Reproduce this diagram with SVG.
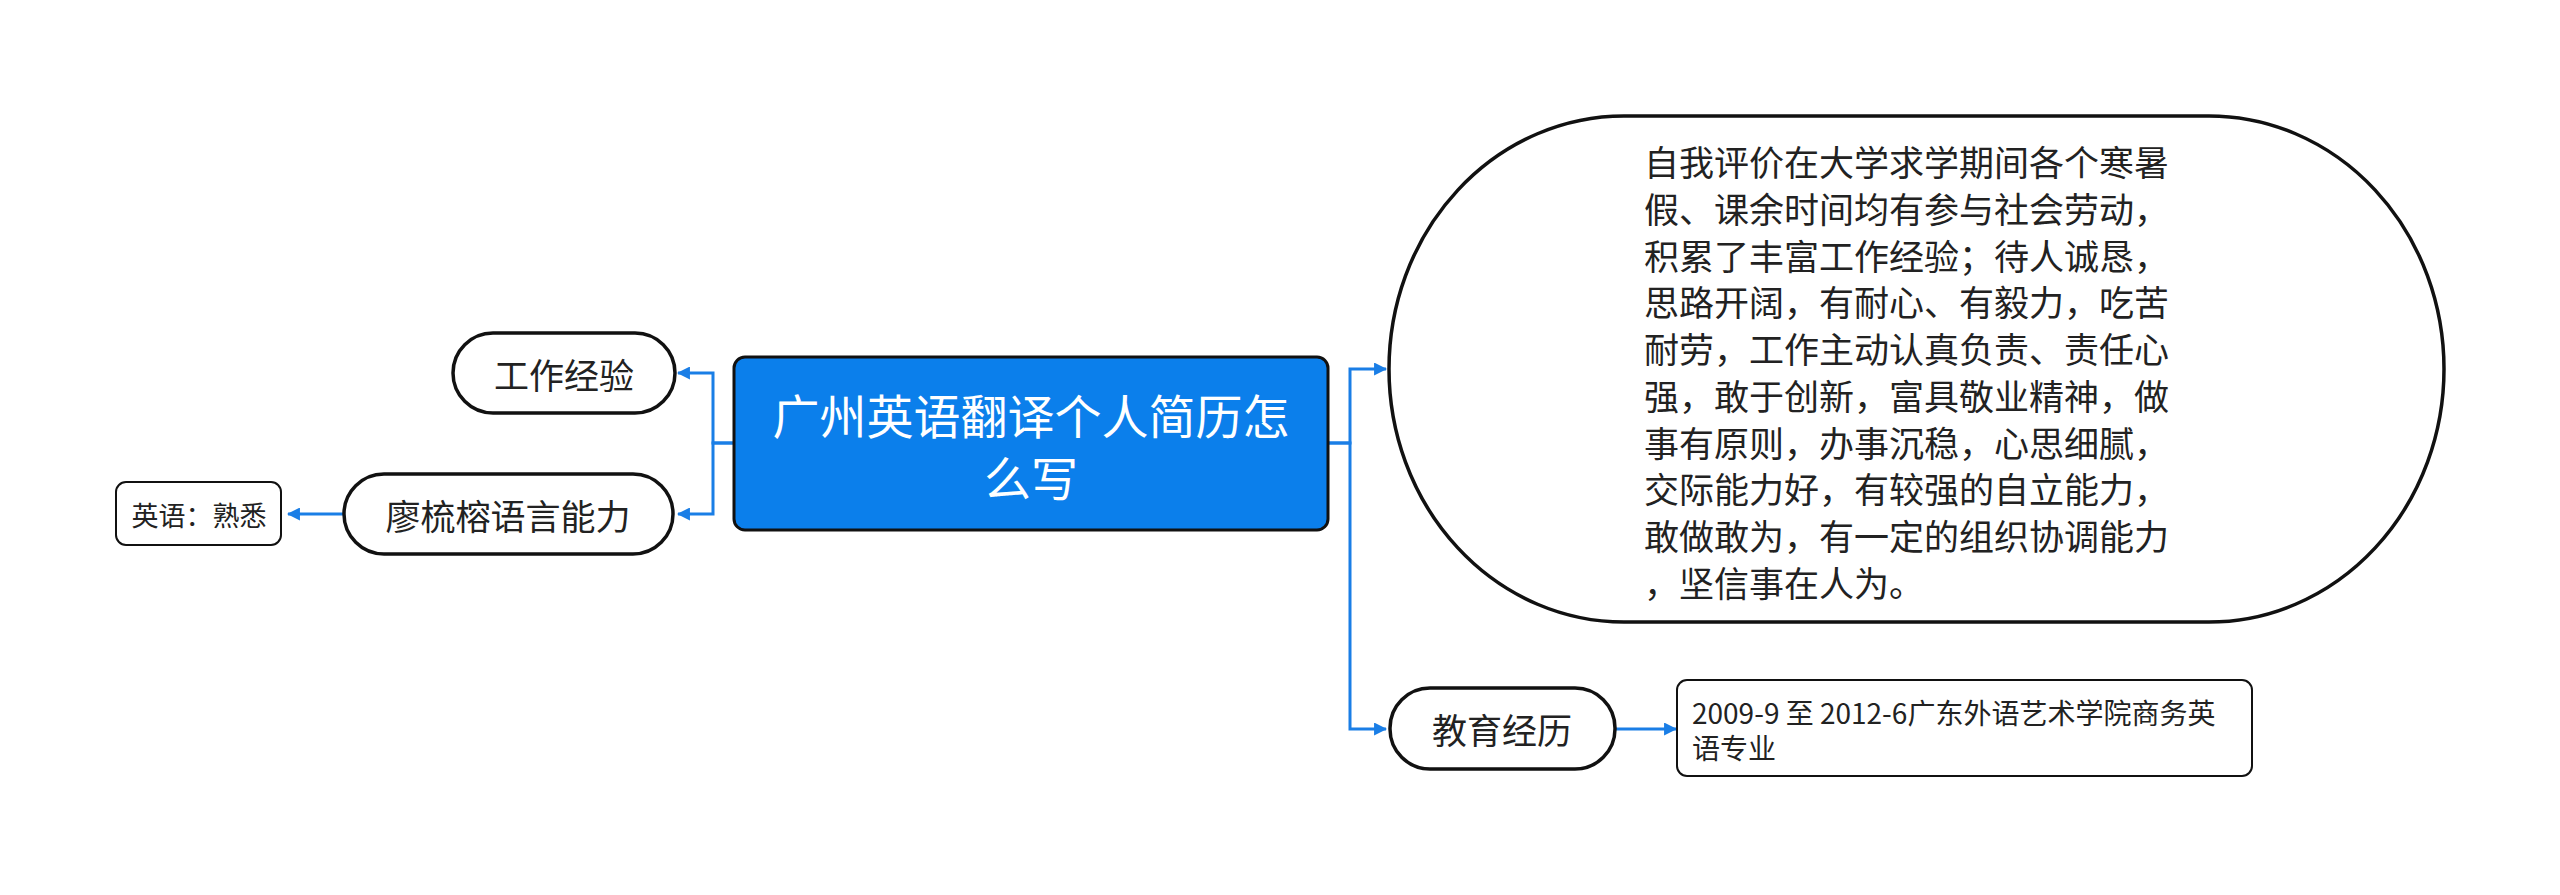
<svg xmlns="http://www.w3.org/2000/svg" width="2560" height="895" viewBox="0 0 2560 895">
<style>
text{font-family:"Noto Sans CJK SC","Noto Sans",sans-serif;fill:#222;dominant-baseline:central}
.pill{fill:#fff;stroke:#111;stroke-width:3.5}
.box{fill:#fff;stroke:#111;stroke-width:2}
.conn{fill:none;stroke:#1a7ee6;stroke-width:3}
</style>
<defs>
<marker id="arr" viewBox="0 0 12 12" refX="11" refY="6" markerWidth="13" markerHeight="13" markerUnits="userSpaceOnUse" orient="auto">
<path d="M0,0 L12,6 L0,12 z" fill="#1a7ee6"/>
</marker>
</defs>
<rect width="2560" height="895" fill="#fff"/>
<g id="connectors">
<path class="conn" d="M734,443 H713 V373 H678" marker-end="url(#arr)"/>
<path class="conn" d="M734,443 H713 V514 H678" marker-end="url(#arr)"/>
<path class="conn" d="M344,514 H288" marker-end="url(#arr)"/>
<path class="conn" d="M1328,443 H1350 V369 H1386" marker-end="url(#arr)"/>
<path class="conn" d="M1328,443 H1350 V729 H1386" marker-end="url(#arr)"/>
<path class="conn" d="M1615,729 H1676" marker-end="url(#arr)"/>
</g>
<g id="root">
<rect x="734" y="357" width="594" height="173" rx="11" fill="#0b7feb" stroke="#111" stroke-width="3"/>
<text x="1031" y="413" font-size="47" text-anchor="middle" style="fill:#fff">广州英语翻译个人简历怎</text>
<text x="1031" y="475" font-size="47" text-anchor="middle" style="fill:#fff">么写</text>
</g>
<g id="work">
<rect class="pill" x="453" y="333" width="222" height="80" rx="40"/>
<text x="564" y="373" font-size="35" text-anchor="middle">工作经验</text>
</g>
<g id="lang">
<rect class="pill" x="344" y="474" width="329" height="80" rx="40"/>
<text x="508" y="514" font-size="35" text-anchor="middle">廖梳榕语言能力</text>
</g>
<g id="english">
<rect class="box" x="116" y="482" width="165" height="63" rx="10"/>
<text x="199" y="514" font-size="27" text-anchor="middle">英语：熟悉</text>
</g>
<g id="self">
<rect class="pill" x="1389" y="116" width="1055" height="506" rx="235" ry="253"/>
<text font-size="35" x="1644">
<tspan x="1644" y="160">自我评价在大学求学期间各个寒暑</tspan>
<tspan x="1644" y="207">假、课余时间均有参与社会劳动，</tspan>
<tspan x="1644" y="254">积累了丰富工作经验；待人诚恳，</tspan>
<tspan x="1644" y="300">思路开阔，有耐心、有毅力，吃苦</tspan>
<tspan x="1644" y="347">耐劳，工作主动认真负责、责任心</tspan>
<tspan x="1644" y="394">强，敢于创新，富具敬业精神，做</tspan>
<tspan x="1644" y="441">事有原则，办事沉稳，心思细腻，</tspan>
<tspan x="1644" y="487">交际能力好，有较强的自立能力，</tspan>
<tspan x="1644" y="534">敢做敢为，有一定的组织协调能力</tspan>
<tspan x="1644" y="581">，坚信事在人为。</tspan>
</text>
</g>
<g id="edu">
<rect class="pill" x="1390" y="688" width="225" height="81" rx="40"/>
<text x="1502" y="728" font-size="35" text-anchor="middle">教育经历</text>
</g>
<g id="edu-detail">
<rect class="box" x="1677" y="680" width="575" height="96" rx="10"/>
<text font-size="28" x="1692">
<tspan x="1692" y="712">2009-9 至 2012-6广东外语艺术学院商务英</tspan>
<tspan x="1692" y="747">语专业</tspan>
</text>
</g>
</svg>
